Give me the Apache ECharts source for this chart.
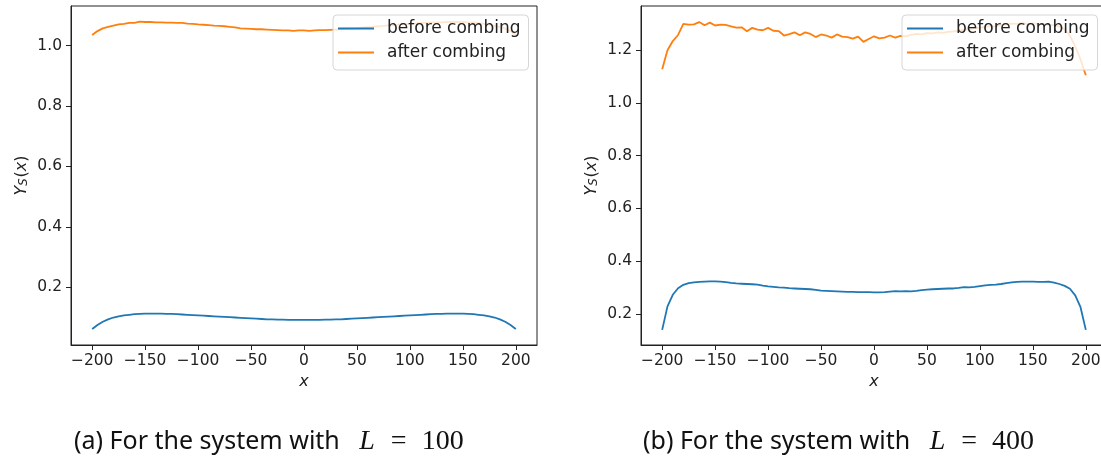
<!DOCTYPE html>
<html>
<head>
<meta charset="utf-8">
<script src="https://cdn.jsdelivr.net/npm/echarts@6/dist/echarts.min.js"></script>
<style>
html,body{margin:0;padding:0;background:#fff;}
#c{width:1101px;height:461px;}
</style>
</head>
<body>
<div id="c"></div>
<script>
// ---- data ----
const xs = [-200,-195,-190,-185,-180,-175,-170,-165,-160,-155,-150,-145,-140,-135,-130,-125,-120,-115,-110,-105,-100,-95,-90,-85,-80,-75,-70,-65,-60,-55,-50,-45,-40,-35,-30,-25,-20,-15,-10,-5,0,5,10,15,20,25,30,35,40,45,50,55,60,65,70,75,80,85,90,95,100,105,110,115,120,125,130,135,140,145,150,155,160,165,170,175,180,185,190,195,200];

const beforeL100 = [0.062,0.075,0.086,0.094,0.100,0.104,0.107,0.109,0.111,0.112,0.113,0.113,0.113,0.113,0.112,0.112,0.111,0.110,0.109,0.108,0.107,0.106,0.105,0.104,0.103,0.102,0.101,0.100,0.099,0.098,0.097,0.096,0.095,0.094,0.094,0.093,0.093,0.092,0.092,0.092,0.092,0.092,0.092,0.092,0.093,0.093,0.094,0.094,0.095,0.096,0.097,0.098,0.099,0.100,0.101,0.102,0.103,0.104,0.105,0.106,0.107,0.108,0.109,0.110,0.111,0.112,0.112,0.113,0.113,0.113,0.113,0.112,0.111,0.109,0.107,0.104,0.100,0.094,0.086,0.075,0.062];

const afterL100 = [1.035,1.048,1.057,1.062,1.066,1.070,1.072,1.075,1.075,1.079,1.078,1.078,1.077,1.077,1.076,1.076,1.075,1.075,1.073,1.072,1.070,1.069,1.068,1.066,1.065,1.064,1.062,1.060,1.057,1.056,1.055,1.054,1.054,1.053,1.052,1.051,1.050,1.050,1.049,1.050,1.050,1.049,1.050,1.051,1.051,1.052,1.053,1.054,1.055,1.056,1.057,1.059,1.061,1.062,1.064,1.065,1.067,1.068,1.070,1.071,1.072,1.073,1.075,1.075,1.076,1.077,1.077,1.078,1.078,1.078,1.078,1.077,1.076,1.074,1.072,1.069,1.065,1.061,1.056,1.048,1.035];

const beforeL400 = [0.139,0.228,0.272,0.297,0.310,0.316,0.319,0.321,0.322,0.323,0.323,0.322,0.320,0.317,0.315,0.314,0.313,0.312,0.311,0.307,0.304,0.302,0.300,0.299,0.297,0.296,0.295,0.294,0.293,0.291,0.288,0.287,0.286,0.285,0.284,0.283,0.283,0.282,0.282,0.282,0.281,0.281,0.282,0.284,0.286,0.285,0.286,0.285,0.287,0.290,0.292,0.293,0.294,0.295,0.296,0.296,0.298,0.301,0.300,0.302,0.305,0.308,0.310,0.311,0.313,0.316,0.319,0.321,0.322,0.322,0.322,0.321,0.321,0.322,0.318,0.313,0.306,0.295,0.270,0.225,0.139];

const afterL400 = [1.128,1.200,1.235,1.258,1.300,1.297,1.298,1.307,1.295,1.305,1.294,1.297,1.296,1.291,1.286,1.287,1.272,1.285,1.278,1.276,1.285,1.274,1.273,1.256,1.261,1.268,1.257,1.268,1.262,1.250,1.260,1.256,1.248,1.260,1.252,1.250,1.244,1.252,1.232,1.243,1.253,1.245,1.248,1.256,1.248,1.255,1.253,1.258,1.262,1.260,1.265,1.264,1.268,1.266,1.270,1.272,1.274,1.278,1.280,1.283,1.286,1.289,1.292,1.290,1.296,1.298,1.301,1.300,1.304,1.299,1.302,1.300,1.299,1.296,1.295,1.290,1.280,1.255,1.215,1.165,1.105];

const xTicks = [-200,-150,-100,-50,0,50,100,150,200];
const yTicksA = [0.2,0.4,0.6,0.8,1.0];
const yTicksB = [0.2,0.4,0.6,0.8,1.0,1.2];
const seriesNames = ['before combing','after combing'];
const captionA = ['(a) For the system with ', 'L', '=', '100'];
const captionB = ['(b) For the system with ', 'L', '=', '400'];

// ---- chart ----
const FONT = 'DejaVu Sans';
const TXT = '#222';
const C1 = '#1f77b4', C2 = '#ff7f0e';
const pair = arr => xs.map((x, i) => [x, arr[i]]);

function xAxisCfg(gi) {
  return {
    type: 'value', gridIndex: gi, min: -220, max: 220,
    name: 'x', nameLocation: 'middle', nameGap: 27,
    nameTextStyle: {fontFamily: FONT, fontStyle: 'italic', fontSize: 16, color: TXT},
    axisLine: {show: true, onZero: false, lineStyle: {color: '#222', width: 1}},
    axisTick: {show: true, length: 5, lineStyle: {color: '#222'}, customValues: xTicks},
    axisLabel: {customValues: xTicks, margin: 8, fontFamily: FONT, fontSize: 15.5, color: TXT,
      formatter: v => String(v).replace('-', '\u2212')},
    splitLine: {show: false}
  };
}
function yAxisCfg(gi, min, max, ticks) {
  return {
    type: 'value', gridIndex: gi, min: min, max: max,
    name: '{i|Y}{s|S}{p|(}{i|x}{p|)}', nameLocation: 'middle', nameGap: 41, nameRotate: 90,
    nameTextStyle: {
      fontFamily: FONT, fontSize: 16, color: TXT,
      rich: {
        i: {fontFamily: FONT, fontStyle: 'italic', fontSize: 16, color: TXT, lineHeight: 22, verticalAlign: 'bottom'},
        s: {fontFamily: FONT, fontStyle: 'italic', fontSize: 11.5, color: TXT, lineHeight: 22, verticalAlign: 'bottom', padding: [0, 1, 0, 0]},
        p: {fontFamily: FONT, fontSize: 16, color: TXT, lineHeight: 22, verticalAlign: 'bottom'}
      }
    },
    axisLine: {show: true, onZero: false, lineStyle: {color: '#222', width: 1}},
    axisTick: {show: true, length: 5, lineStyle: {color: '#222'}, customValues: ticks},
    axisLabel: {customValues: ticks, margin: 9, fontFamily: FONT, fontSize: 15.5, color: TXT,
      formatter: v => v.toFixed(1)},
    splitLine: {show: false}
  };
}
function legendCfg(left) {
  return {
    left: left, top: 15, orient: 'vertical',
    data: seriesNames.map(n => ({name: n, icon: 'rect'})),
    itemWidth: 36, itemHeight: 2, itemGap: 7,
    padding: [5, 8, 9, 5],
    backgroundColor: 'rgba(255,255,255,0.8)',
    borderColor: '#d6d6d6', borderWidth: 1, borderRadius: 4,
    textStyle: {fontFamily: FONT, fontSize: 17, lineHeight: 17, color: TXT, padding: [0, 0, 0, 8]},
    z: 10
  };
}
function lineSeries(name, gi, arr, color) {
  return {
    type: 'line', name: name, xAxisIndex: gi, yAxisIndex: gi,
    data: pair(arr), symbol: 'none', showSymbol: false,
    lineStyle: {color: color, width: 1.8}, itemStyle: {color: color},
    animation: false, z: 2
  };
}
function caption(parts, x) {
  return {
    type: 'text', left: x, top: 428,
    style: {
      text: '{t|' + parts[0] + '}{m|' + parts[1] + '}{e|' + parts[2] + '}{n|' + parts[3] + '}',
      rich: {
        t: {fontFamily: 'Noto Sans', fontSize: 25, fill: '#111', lineHeight: 30},
        m: {fontFamily: 'Liberation Serif', fontStyle: 'italic', fontSize: 28, fill: '#111', lineHeight: 30, padding: [0, 0, 0, 13]},
        e: {fontFamily: 'Liberation Serif', fontSize: 28, fill: '#111', lineHeight: 30, padding: [0, 15, 0, 16]},
        n: {fontFamily: 'Liberation Serif', fontSize: 28, fill: '#111', lineHeight: 30}
      }
    }
  };
}

const chart = echarts.init(document.getElementById('c'), null, {renderer: 'canvas'});
chart.setOption({
  animation: false,
  backgroundColor: '#fff',
  grid: [
    {left: 71, top: 6, width: 466, height: 339, show: true, borderColor: '#222', borderWidth: 1, containLabel: false, outerBoundsMode: 'none'},
    {left: 641, top: 6, width: 466, height: 339, show: true, borderColor: '#222', borderWidth: 1, containLabel: false, outerBoundsMode: 'none'}
  ],
  xAxis: [xAxisCfg(0), xAxisCfg(1)],
  yAxis: [yAxisCfg(0, 0.009, 1.131, yTicksA), yAxisCfg(1, 0.0815, 1.368, yTicksB)],
  legend: [legendCfg(333), legendCfg(902)],
  series: [
    lineSeries(seriesNames[0], 0, beforeL100, C1),
    lineSeries(seriesNames[1], 0, afterL100, C2),
    lineSeries(seriesNames[0], 1, beforeL400, C1),
    lineSeries(seriesNames[1], 1, afterL400, C2)
  ],
  graphic: [caption(captionA, 74), caption(captionB, 643)]
});
</script>
</body>
</html>
